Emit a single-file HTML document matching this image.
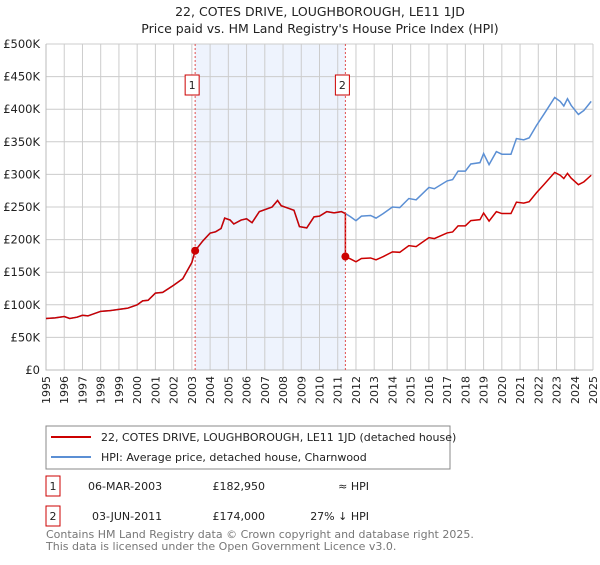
<!DOCTYPE html>
<html><head><meta charset="utf-8"><style>
body{margin:0;background:#fff;font-family:"Liberation Sans","DejaVu Sans",sans-serif;}
svg text{font-family:"DejaVu Sans","Liberation Sans",sans-serif;}
</style></head><body>
<svg width="600" height="560" xmlns="http://www.w3.org/2000/svg" id="chart">
<text x="320" y="16" text-anchor="middle" font-size="12.5" fill="#222">22, COTES DRIVE, LOUGHBOROUGH, LE11 1JD</text>
<text x="320" y="33" text-anchor="middle" font-size="12.5" fill="#222">Price paid vs. HM Land Registry's House Price Index (HPI)</text>
<g id="plot"></g>
<rect x="46" y="426" width="404" height="43" fill="#fff" stroke="#888"/>
<line x1="51" y1="437" x2="91" y2="437" stroke="#cc0000" stroke-width="2"/>
<text x="101" y="441" font-size="11" fill="#222">22, COTES DRIVE, LOUGHBOROUGH, LE11 1JD (detached house)</text>
<line x1="51" y1="457" x2="91" y2="457" stroke="#5b8fd4" stroke-width="2"/>
<text x="101" y="461" font-size="11" fill="#222">HPI: Average price, detached house, Charnwood</text>
<rect x="46" y="476" width="14" height="20" fill="#fff" stroke="#cc0000"/>
<text x="53" y="490" text-anchor="middle" font-size="11" fill="#222">1</text>
<text x="88" y="490" font-size="11" fill="#222">06-MAR-2003</text>
<text x="265" y="490" text-anchor="end" font-size="11" fill="#222">£182,950</text>
<text x="369" y="490" text-anchor="end" font-size="11" fill="#222">≈ HPI</text>
<rect x="46" y="506" width="14" height="20" fill="#fff" stroke="#cc0000"/>
<text x="53" y="520" text-anchor="middle" font-size="11" fill="#222">2</text>
<text x="92" y="520" font-size="11" fill="#222">03-JUN-2011</text>
<text x="265" y="520" text-anchor="end" font-size="11" fill="#222">£174,000</text>
<text x="369" y="520" text-anchor="end" font-size="11" fill="#222">27% ↓ HPI</text>
<text x="46" y="538" font-size="11" fill="#777">Contains HM Land Registry data © Crown copyright and database right 2025.</text>
<text x="46" y="550" font-size="11" fill="#777">This data is licensed under the Open Government Licence v3.0.</text>
</svg>
<script>
const years=[1995,1996,1997,1998,1999,2000,2001,2002,2003,2004,2005,2006,2007,2008,2009,2010,2011,2012,2013,2014,2015,2016,2017,2018,2019,2020,2021,2022,2023,2024,2025];
const yTicks=[0,50,100,150,200,250,300,350,400,450,500];
const yTickLabels=["£0","£50K","£100K","£150K","£200K","£250K","£300K","£350K","£400K","£450K","£500K"];
const hpiT=[1995.0,1995.5,1996.0,1996.3,1996.7,1997.0,1997.3,1998.0,1998.5,1999.0,1999.5,2000.0,2000.3,2000.6,2001.0,2001.4,2002.0,2002.5,2003.0,2003.18,2003.6,2004.0,2004.3,2004.6,2004.8,2005.1,2005.3,2005.7,2006.0,2006.3,2006.7,2007.0,2007.4,2007.7,2007.9,2008.3,2008.6,2008.9,2009.3,2009.7,2010.0,2010.4,2010.8,2011.2,2011.42,2011.7,2012.0,2012.3,2012.8,2013.1,2013.5,2014.0,2014.4,2014.9,2015.3,2016.0,2016.3,2017.0,2017.3,2017.6,2018.0,2018.3,2018.8,2019.0,2019.3,2019.7,2020.0,2020.5,2020.8,2021.2,2021.5,2021.9,2022.3,2022.9,2023.2,2023.4,2023.6,2023.8,2024.2,2024.5,2024.9];
const hpiV=[79,80,82,79,81,84,83,90,91,93,95,100,106,107,118,119,130,140,165,183,198,210,212,217,233,230,224,230,232,226,243,246,250,260,252,248,245,220,218,235,236,243,241,243,240,235,229,236,237,233,240,250,249,263,261,280,278,290,292,305,305,316,318,332,315,335,331,331,355,353,356,375,392,418,412,405,416,406,392,398,412];
const saleT=[2003.18,2011.42];
const saleV=[182.95,174.0];
const saleLabels=["1","2"];

const NS="http://www.w3.org/2000/svg";
const L=46,R=593,T=44,B=370;
const xs=t=>L+(t-1995)/(2025-1995)*(R-L);
const ys=v=>B-v/500*(B-T);
const g=document.getElementById('plot');
function mk(tag,a){const e=document.createElementNS(NS,tag);for(const k in a)e.setAttribute(k,a[k]);g.appendChild(e);return e;}

const shade=mk('rect',{x:xs(saleT[0]),y:T,width:xs(saleT[1])-xs(saleT[0]),height:B-T,fill:'#eef3fd'});


years.forEach(y=>{
 const l=mk('line',{x1:xs(y),x2:xs(y),y1:T,y2:B,stroke:'#cccccc','stroke-width':1});
 
 
 const t=mk('text',{x:0,y:0,'font-size':11,fill:'#222','text-anchor':'end',transform:`translate(${xs(y)+4},${B+6}) rotate(-90)`});
 t.textContent=y;
 
 
});
yTicks.forEach((v,i)=>{
 const l=mk('line',{x1:L,x2:R,y1:ys(v),y2:ys(v),stroke:'#cccccc','stroke-width':1});
 
 
 const t=mk('text',{x:40,y:ys(v)+4,'font-size':11.5,fill:'#222','text-anchor':'end'});
 t.textContent=yTickLabels[i];
 
 
});
const ax=mk('polyline',{points:`${L},${T} ${L},${B} ${R},${B}`,fill:'none',stroke:'#bbb'});



// HPI line
const hp=mk('polyline',{points:hpiT.map((t,i)=>xs(t)+','+ys(hpiV[i])).join(' '),fill:'none',stroke:'#5b8fd4','stroke-width':1.5});



// Price-paid line: HPI indexed to each sale
function hpiAt(t){for(let i=1;i<hpiT.length;i++){if(t<=hpiT[i]){const f=(t-hpiT[i-1])/(hpiT[i]-hpiT[i-1]);return hpiV[i-1]+f*(hpiV[i]-hpiV[i-1]);}}return hpiV[hpiV.length-1];}
const pts=[];
hpiT.forEach((t,i)=>{
 let k=0;for(let j=0;j<saleT.length;j++)if(t>=saleT[j])k=j;
 if(t>saleT[saleT.length-1]-1e-9 && t<saleT[1]+1e-9 && false){}
 const f=saleV[k]/hpiAt(saleT[k]);
 if(t===saleT[1])pts.push([t,hpiV[i]*saleV[0]/hpiAt(saleT[0])]);
 pts.push([t,hpiV[i]*f]);
});
const pp=mk('polyline',{points:pts.map(p=>xs(p[0])+','+ys(p[1])).join(' '),fill:'none',stroke:'#cc0000','stroke-width':1.5});



saleT.forEach((t,i)=>{
 const d=mk('line',{x1:xs(t),x2:xs(t),y1:T,y2:B,stroke:'#e05050','stroke-dasharray':'2,2','stroke-width':1});
 
 
 const c=mk('circle',{cx:xs(t),cy:ys(saleV[i]),r:4,fill:'#cc0000'});
 
 
 const b=mk('rect',{x:xs(t)-10,y:75,width:14,height:20,fill:'#fff',stroke:'#cc0000'});
 
 
 const tx=mk('text',{x:xs(t)-3,y:89,'font-size':11,fill:'#222','text-anchor':'middle'});
 tx.textContent=saleLabels[i];
 
 
});
</script>
</body></html>
